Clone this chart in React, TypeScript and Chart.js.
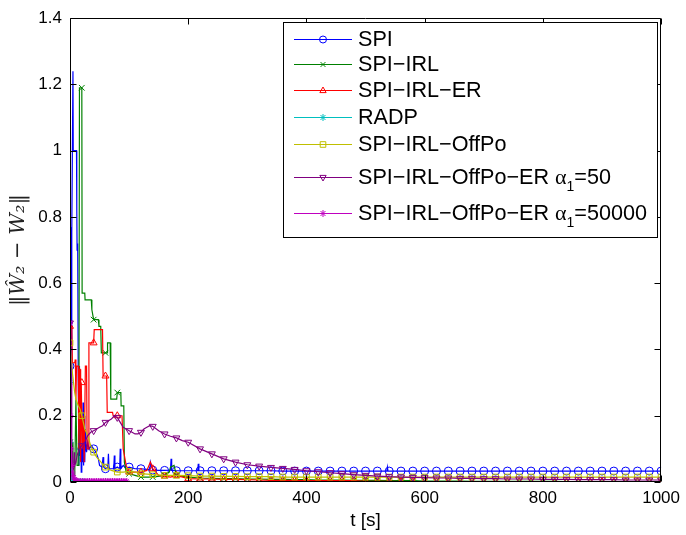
import React, { useEffect, useRef } from 'react';
import { Chart, registerables } from 'chart.js';
Chart.register(...registerables);

const xTicks = [0, 200, 400, 600, 800, 1000];
const yTicks = [0, 0.2, 0.4, 0.6, 0.8, 1.0, 1.2, 1.4];

const seriesNames = [
  'SPI',
  'SPI−IRL',
  'SPI−IRL−ER',
  'RADP',
  'SPI−IRL−OffPo',
  'SPI−IRL−OffPo−ER α1=50',
  'SPI−IRL−OffPo−ER α1=50000',
];

const spiT = [0,1,2,3,5,5.5,11,11.5,12,13,14,15,16,17,18,19,20,21,22,23,24,25,26,28,30,32,36,40,44,48,50,54,56,57,60,64,65,66,70,74,75,76,80,84,85,86,90,95,100,110,120,130,135,136,140,150,160,170,171,172,180,200,216,217,218,220,240,260,280,300,320,340,360,380,400,420,440,460,480,500,520,536,537,538,540,560,580,600,620,640,660,680,700,720,740,760,780,800,820,840,860,880,900,920,940,960,980,1000];
const spiV = [0.35,0.77,0.3,0.75,1.24,1.0,1.0,0.82,0.7,0.72,0.3,0.05,0.35,0.08,0.2,0.03,0.1,0.06,0.24,0.05,0.2,0.06,0.16,0.09,0.12,0.1,0.11,0.1,0.09,0.07,0.05,0.045,0.075,0.045,0.04,0.045,0.085,0.04,0.04,0.04,0.08,0.04,0.045,0.04,0.1,0.04,0.05,0.04,0.045,0.04,0.04,0.038,0.037,0.06,0.036,0.035,0.035,0.036,0.07,0.035,0.034,0.034,0.034,0.055,0.034,0.034,0.034,0.034,0.034,0.034,0.034,0.034,0.033,0.033,0.033,0.033,0.033,0.033,0.033,0.033,0.033,0.033,0.045,0.033,0.033,0.033,0.033,0.033,0.033,0.033,0.033,0.033,0.033,0.033,0.033,0.033,0.033,0.033,0.033,0.033,0.033,0.033,0.033,0.033,0.033,0.033,0.033,0.033];

const irlT = [0,4,5,8,10,12,15,16,20,20.5,25,25.5,36,37,40,48,49,52,53,60,63,63.5,68,69,79,80,86,86.5,91,92,95,100,110,120,140,160,168,170,176,180,200,220,240,260,280,300,320,340,360,380,400,420,440,460,480,500,520,540,560,580,600,620,640,660,680,700,720,740,760,780,800,820,840,860,880,900,920,940,960,980,1000];
const irlV = [0.12,0.12,0.02,0.02,0.25,0.05,0.05,1.19,1.19,0.57,0.57,0.55,0.55,0.52,0.49,0.49,0.47,0.47,0.39,0.39,0.39,0.42,0.42,0.25,0.25,0.27,0.27,0.23,0.23,0.06,0.03,0.025,0.02,0.015,0.015,0.02,0.03,0.045,0.05,0.02,0.015,0.012,0.011,0.01,0.01,0.009,0.009,0.008,0.008,0.007,0.007,0.006,0.006,0.006,0.005,0.005,0.005,0.004,0.004,0.004,0.003,0.003,0.003,0.003,0.002,0.002,0.002,0.002,0.002,0.002,0.002,0.002,0.001,0.001,0.001,0.001,0.001,0.001,0.001,0.001,0.001];

const erT = [0,3,4,8,9,10,11,14,15,16,17,18,19,20,21,22,24,25,26,28,29,31,32,40,41,55,56,60,62,63,72,73,80,88,90,95,100,110,120,130,136,140,150,160,170,180,200,220,240,260,280,300,320,340,360,380,400,420,440,460,480,500,520,540,560,580,600,620,640,660,680,700,720,740,760,780,800,820,840,860,880,900,920,940,960,980,1000];
const erV = [0.47,0.47,0.36,0.36,0.37,0.25,0.35,0.35,0.1,0.34,0.34,0.06,0.3,0.3,0.1,0.2,0.06,0.06,0.35,0.35,0.1,0.1,0.42,0.42,0.46,0.46,0.32,0.32,0.32,0.21,0.21,0.2,0.2,0.2,0.1,0.05,0.03,0.03,0.03,0.035,0.06,0.04,0.02,0.018,0.015,0.02,0.01,0.009,0.009,0.008,0.008,0.007,0.006,0.005,0.005,0.005,0.004,0.004,0.004,0.004,0.004,0.002,0.002,0.002,0.001,0.001,0.001,0.001,0.001,0.001,0.001,0.001,0.001,0.001,0.001,0.001,0.001,0.001,0.001,0.001,0.001,0.001,0.001,0.001,0.001,0.001,0.001];

const radpT = [0,1,2,3,4,5,7,9,11,13,15,17,19,21,23,25];
const radpV = [0.3,0.12,0.05,0.02,0.01,0.006,0.004,0.003,0.001,0.001,0.001,0.001,0.001,0.001,0.001,0.001];

const offT = [0,2,4,6,8,10,14,17,20,25,30,35,40,45,50,55,60,65,70,80,90,100,110,120,140,160,180,200,220,240,260,280,300,320,340,360,380,400,420,440,460,480,500,520,540,560,580,600,620,640,660,680,700,720,740,760,780,800,820,840,860,880,900,920,940,960,980,1000];
const offV = [0.42,0.38,0.33,0.3,0.27,0.25,0.23,0.22,0.2,0.16,0.14,0.11,0.09,0.075,0.065,0.055,0.045,0.04,0.035,0.03,0.03,0.032,0.03,0.025,0.022,0.02,0.02,0.019,0.018,0.018,0.017,0.017,0.016,0.016,0.016,0.015,0.015,0.015,0.015,0.015,0.015,0.015,0.015,0.015,0.015,0.015,0.015,0.015,0.015,0.015,0.015,0.015,0.015,0.015,0.015,0.015,0.015,0.015,0.015,0.015,0.015,0.015,0.015,0.015,0.015,0.015,0.015,0.015];

const er50T = [0,2,3,4,6,7,8,10,12,16,20,25,30,35,40,45,50,55,60,65,70,75,80,85,90,95,100,105,110,115,120,125,130,135,140,150,160,170,180,190,200,220,240,260,280,300,320,340,360,380,400,420,440,460,480,500,520,540,560,580,600,620,640,660,680,700,720,740,760,780,800,820,840,860,880,900,920,940,960,980,1000];
const er50V = [0.48,0.3,0.1,0.05,0.04,0.09,0.05,0.06,0.08,0.1,0.11,0.12,0.14,0.15,0.155,0.16,0.165,0.17,0.18,0.185,0.19,0.2,0.195,0.18,0.165,0.16,0.155,0.15,0.145,0.145,0.15,0.16,0.165,0.17,0.168,0.155,0.145,0.138,0.133,0.125,0.12,0.1,0.085,0.07,0.06,0.052,0.048,0.044,0.041,0.038,0.034,0.031,0.028,0.025,0.022,0.02,0.018,0.016,0.015,0.014,0.013,0.012,0.012,0.011,0.011,0.01,0.01,0.009,0.009,0.009,0.008,0.008,0.008,0.007,0.007,0.007,0.007,0.006,0.006,0.006,0.006];

const er50kT = [0,1,2,3,4,5,6,8,10,12,15,18,21,24,27,30,33,36,39,42,45,48,51,54,57,60,63,66,69,72,75,78,81,84,87,90,93,96];
const er50kV = [0.48,0.2,0.1,0.05,0.03,0.02,0.012,0.008,0.005,0.004,0.003,0.003,0.003,0.003,0.003,0.003,0.003,0.003,0.003,0.003,0.003,0.003,0.003,0.003,0.003,0.003,0.003,0.003,0.003,0.003,0.003,0.003,0.003,0.003,0.003,0.003,0.003,0.003];

const colors = ['#0000ff', '#008000', '#ff0000', '#00bfbf', '#bfbf00', '#800080', '#bf00bf'];
const styles = ['circle', 'crossRot', 'triangle', 'star', 'rect', 'triangleDown', 'star'];

const pts = (t: number[], v: number[]) => t.map((x, i) => ({ x, y: v[i] }));

function drawMarker(ctx: CanvasRenderingContext2D, style: string, x: number, y: number, r: number, color: string) {
  ctx.save();
  ctx.strokeStyle = color;
  ctx.lineWidth = 1;
  ctx.beginPath();
  if (style === 'circle') {
    ctx.arc(x, y, r, 0, Math.PI * 2);
  } else if (style === 'rect') {
    ctx.rect(x - r * 0.8, y - r * 0.8, r * 1.6, r * 1.6);
  } else if (style === 'triangle') {
    ctx.moveTo(x, y - r);
    ctx.lineTo(x + r * 0.9, y + r * 0.6);
    ctx.lineTo(x - r * 0.9, y + r * 0.6);
    ctx.closePath();
  } else if (style === 'triangleDown') {
    ctx.moveTo(x, y + r);
    ctx.lineTo(x + r * 0.9, y - r * 0.6);
    ctx.lineTo(x - r * 0.9, y - r * 0.6);
    ctx.closePath();
  } else if (style === 'crossRot') {
    ctx.moveTo(x - r * 0.7, y - r * 0.7);
    ctx.lineTo(x + r * 0.7, y + r * 0.7);
    ctx.moveTo(x + r * 0.7, y - r * 0.7);
    ctx.lineTo(x - r * 0.7, y + r * 0.7);
  } else if (style === 'star') {
    for (let k = 0; k < 4; k++) {
      const a = (k * Math.PI) / 4;
      ctx.moveTo(x - Math.cos(a) * r, y - Math.sin(a) * r);
      ctx.lineTo(x + Math.cos(a) * r, y + Math.sin(a) * r);
    }
  }
  ctx.stroke();
  ctx.restore();
}

const framePlugin = {
  id: 'matlabFrame',
  afterDatasetsDraw(chart: any) {
    const { ctx, chartArea: a, scales } = chart;
    ctx.save();
    ctx.strokeStyle = '#000';
    ctx.lineWidth = 1;
    const L = Math.round(a.left) + 0.5;
    const R = Math.round(a.right) - 0.5;
    const T = Math.round(a.top) + 0.5;
    const B = Math.round(a.bottom) - 0.5;
    ctx.beginPath();
    ctx.rect(L, T, R - L, B - T);
    ctx.stroke();
    ctx.beginPath();
    for (const v of xTicks) {
      const px = Math.round(scales.x.getPixelForValue(v)) + 0.5;
      ctx.moveTo(px, B);
      ctx.lineTo(px, B - 6);
      ctx.moveTo(px, T);
      ctx.lineTo(px, T + 6);
    }
    for (const v of yTicks) {
      const py = Math.round(scales.y.getPixelForValue(v)) + 0.5;
      ctx.moveTo(L, py);
      ctx.lineTo(L + 6, py);
      ctx.moveTo(R, py);
      ctx.lineTo(R - 6, py);
    }
    ctx.stroke();

    // legend
    const bx = 283.5, by = 22.5, bw = 374, bh = 215;
    ctx.fillStyle = '#fff';
    ctx.fillRect(bx, by, bw, bh);
    ctx.strokeRect(bx, by, bw, bh);
    const rows = [39, 64, 90, 117, 144, 177, 213];
    const font = "21.6px 'Liberation Sans', Arial, sans-serif";
    for (let i = 0; i < seriesNames.length; i++) {
      const y = rows[i] + 0.5;
      ctx.strokeStyle = colors[i];
      ctx.lineWidth = 1;
      ctx.beginPath();
      ctx.moveTo(294, y);
      ctx.lineTo(352, y);
      ctx.stroke();
      drawMarker(ctx, styles[i], 323, y, 3.5, colors[i]);
      ctx.fillStyle = '#000';
      ctx.font = font;
      ctx.textBaseline = 'alphabetic';
      ctx.textAlign = 'left';
      const name = seriesNames[i];
      const base = rows[i] + 7;
      if (i < 5) {
        ctx.fillText(name, 358, base);
      } else {
        const main = 'SPI−IRL−OffPo−ER ';
        ctx.fillText(main, 358, base);
        let x = 358 + ctx.measureText(main).width;
        ctx.font = "22px 'Liberation Serif', serif";
        ctx.fillText('α', x, base);
        x += ctx.measureText('α').width;
        ctx.font = "14px 'Liberation Sans', Arial, sans-serif";
        ctx.fillText('1', x, base + 7);
        x += ctx.measureText('1').width;
        ctx.font = font;
        ctx.fillText(i === 5 ? '=50' : '=50000', x, base);
      }
    }
    ctx.restore();
  },
};

export default function App() {
  const ref = useRef<HTMLCanvasElement>(null);
  useEffect(() => {
    document.body.style.margin = '0';
    const sets = [
      pts(spiT, spiV),
      pts(irlT, irlV),
      pts(erT, erV),
      pts(radpT, radpV),
      pts(offT, offV),
      pts(er50T, er50V),
      pts(er50kT, er50kV),
    ];
    const every20 = (r: number) => (c: any) => (c.raw && c.raw.x % 20 === 0 ? r : 0);
    const datasets = sets.map((d, i) => {
      const dense = i === 3 || i === 6;
      let ps: any = styles[i];
      let rot = 0;
      if (ps === 'triangleDown') { ps = 'triangle'; rot = 180; }
      return {
        label: seriesNames[i],
        data: d,
        borderColor: colors[i],
        backgroundColor: 'rgba(0,0,0,0)',
        pointBorderColor: colors[i],
        pointBackgroundColor: 'rgba(0,0,0,0)',
        borderWidth: 1.2,
        pointBorderWidth: 1,
        pointStyle: ps,
        pointRotation: rot,
        pointRadius: dense ? 3 : every20(4),
        pointHoverRadius: 0,
        tension: 0,
        order: 7 - i,
      };
    });
    const chart = new Chart(ref.current!, {
      type: 'line',
      data: { datasets },
      plugins: [framePlugin],
      options: {
        responsive: false,
        animation: false,
        events: [],
        layout: { padding: { left: 0, right: 17, top: 12, bottom: 0 } },
        plugins: { legend: { display: false }, tooltip: { enabled: false } },
        scales: {
          x: {
            type: 'linear',
            min: 0,
            max: 1000,
            afterBuildTicks: (s: any) => { s.ticks = xTicks.map((v) => ({ value: v })); },
            afterFit: (s: any) => { s.height = 53; },
            grid: { display: false, drawTicks: false },
            border: { display: false },
            ticks: { color: '#000', font: { family: "'Liberation Sans', Arial, sans-serif", size: 17 }, padding: 6, maxRotation: 0, callback: (v: any) => String(v) },
            title: { display: true, text: 't [s]', color: '#000', font: { family: "'Liberation Sans', Arial, sans-serif", size: 19 }, padding: { top: 0, bottom: 3 } },
          },
          y: {
            type: 'linear',
            min: 0,
            max: 1.4,
            afterBuildTicks: (s: any) => { s.ticks = yTicks.map((v) => ({ value: v })); },
            afterFit: (s: any) => { s.width = 70; },
            grid: { display: false, drawTicks: false },
            border: { display: false },
            ticks: { color: '#000', font: { family: "'Liberation Sans', Arial, sans-serif", size: 17 }, padding: 8, callback: (v: any) => String(Math.round(v * 10) / 10) },
            title: { display: true, text: '‖Ŵ₂ − W₂‖', color: '#222', font: { family: "'DejaVu Serif', 'Liberation Serif', serif", size: 21, style: 'italic' }, padding: { top: 6, bottom: 0 } },
          },
        },
      } as any,
    });
    return () => chart.destroy();
  }, []);
  return (
    <div style={{ width: 686, height: 535 }}>
      <canvas ref={ref} width={686} height={535} />
    </div>
  );
}
